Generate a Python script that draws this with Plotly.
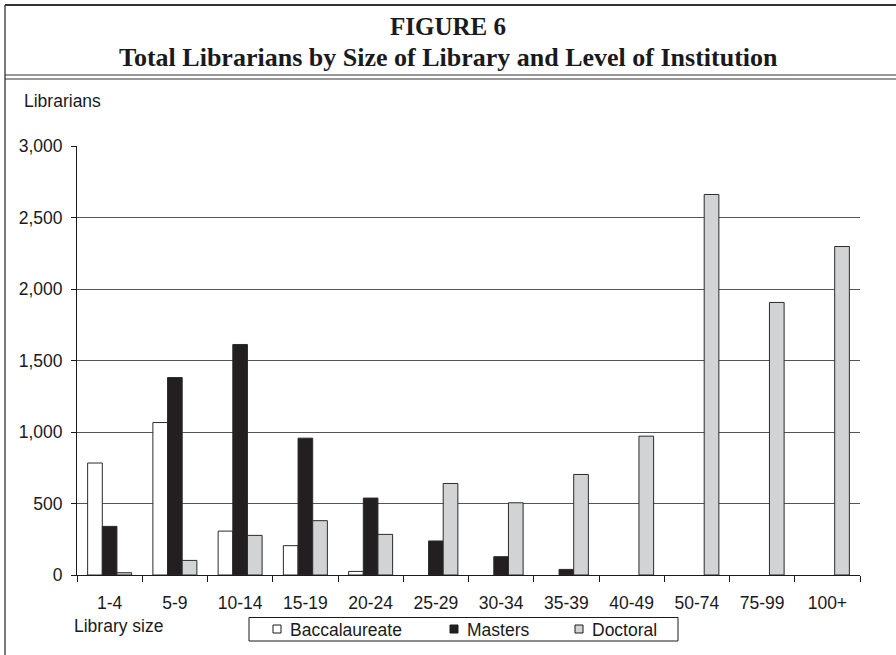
import plotly.graph_objects as go

# Library size categories
sizes = ["1-4", "5-9", "10-14", "15-19", "20-24", "25-29", "30-34",
         "35-39", "40-49", "50-74", "75-99", "100+"]

# Librarians by level of institution; None = no bar
baccalaureate = [783, 1066, 307, 205, 25, None, None, None, None, None, None, None]
masters = [340, 1381, 1612, 957, 538, 238, 128, 39, None, None, None, None]
doctoral = [16, 102, 277, 380, 284, 640, 505, 703, 971, 2661, 1906, 2297]

levels = ["Baccalaureate", "Masters", "Doctoral"]
fills = ["#ffffff", "#231f20", "#d1d3d4"]

W, H = 896, 655
L, R, T, B = 77, 860, 146, 575  # plot area in pixels


def px(x):
    return (x - L) / (R - L)


def py(y):
    return (B - y) / (B - T)


SANS = "Liberation Sans, Arial, sans-serif"
SERIF = "Liberation Serif, Times New Roman, serif"
INK = "#1a1a1a"
FS = 17.5

fig = go.Figure()
for name, vals, fill in zip(levels, [baccalaureate, masters, doctoral], fills):
    fig.add_trace(
        go.Bar(
            x=sizes,
            y=vals,
            name=name,
            marker=dict(color=fill, line=dict(color="#2b2b2b", width=1)),
        )
    )

fig.update_layout(
    width=W,
    height=H,
    margin=dict(l=L, r=W - R, t=T, b=H - B, autoexpand=False),
    paper_bgcolor="white",
    plot_bgcolor="white",
    barmode="group",
    bargap=0.326,
    bargroupgap=0,
    font=dict(family=SANS, size=FS, color=INK),
    showlegend=False,
    xaxis=dict(
        type="category",
        showline=True,
        linecolor=INK,
        linewidth=1,
        ticks="outside",
        tickson="boundaries",
        ticklen=6,
        tickcolor=INK,
        showgrid=False,
        ticklabelstandoff=12,
        automargin=False,
    ),
    yaxis=dict(
        range=[0, 3000],
        dtick=500,
        tickformat=",",
        showline=True,
        linecolor=INK,
        linewidth=1,
        ticks="outside",
        ticklen=5,
        tickcolor=INK,
        showgrid=True,
        gridcolor="#555555",
        gridwidth=1,
        zeroline=False,
        ticklabelstandoff=5,
        automargin=False,
    ),
)

# titles and axis captions
fig.add_annotation(text="<b>FIGURE 6</b>", x=px(448), y=py(27), xref="paper", yref="paper",
                   xanchor="center", yanchor="middle", showarrow=False,
                   font=dict(family=SERIF, size=25, color=INK))
fig.add_annotation(text="<b>Total Librarians by Size of Library and Level of Institution</b>",
                   x=px(448), y=py(57), xref="paper", yref="paper",
                   xanchor="center", yanchor="middle", showarrow=False,
                   font=dict(family=SERIF, size=26, color=INK))
fig.add_annotation(text="Librarians", x=px(22), y=py(101), xref="paper", yref="paper",
                   xanchor="left", yanchor="middle", showarrow=False)
fig.add_annotation(text="Library size", x=px(72), y=py(626), xref="paper", yref="paper",
                   xanchor="left", yanchor="middle", showarrow=False)

# frame: top border, left border, double rule under the title
frame = [
    (5, 5, W, 5, 1.8),
    (5, 5, 5, H, 1.3),
    (5, 75, W, 75, 1.2),
    (5, 79, W, 79, 1.2),
]
for x0, y0, x1, y1, w in frame:
    fig.add_shape(type="line", xref="paper", yref="paper",
                  x0=px(x0), y0=py(y0), x1=px(x1), y1=py(y1),
                  line=dict(color="#333333", width=w))

# legend box with small square keys
fig.add_shape(type="rect", xref="paper", yref="paper",
              x0=px(249), x1=px(678), y0=py(617.5), y1=py(641),
              line=dict(color=INK, width=1), fillcolor="white")
for name, fill, kx in zip(levels, fills, [273, 450, 575]):
    fig.add_shape(type="rect", xref="paper", yref="paper",
                  x0=px(kx), x1=px(kx + 8), y0=py(625), y1=py(633),
                  line=dict(color=INK, width=1), fillcolor=fill)
    fig.add_annotation(text=name, x=px(kx + 15), y=py(629.5), xref="paper", yref="paper",
                       xanchor="left", yanchor="middle", showarrow=False)

fig.write_html("out.html", config={"displayModeBar": False},
               post_script="document.body.style.margin='0px';")
